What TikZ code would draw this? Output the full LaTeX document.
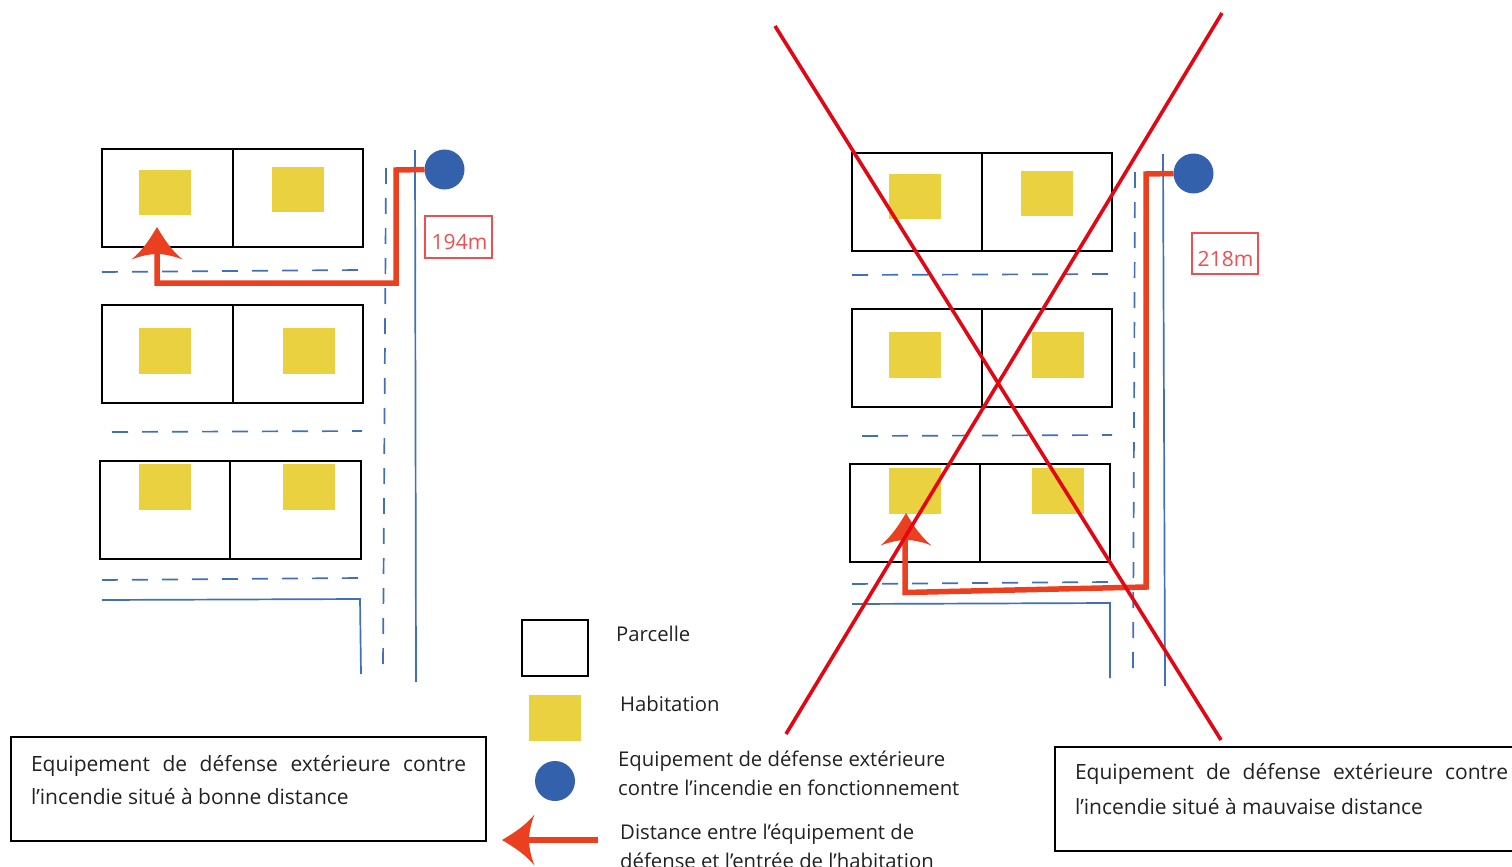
\documentclass[tikz,border=0pt]{standalone}
\usepackage{fontspec}
\setmainfont{Open Sans}
\definecolor{fire}{HTML}{EA401F}
\definecolor{yel}{HTML}{E9D13F}
\definecolor{hyd}{HTML}{3461AC}
\definecolor{road}{HTML}{4070B8}
\definecolor{lab}{HTML}{EF4F4F}
\definecolor{cross}{HTML}{E30613}
\definecolor{ink}{HTML}{222222}
\tikzset{
  parcel/.style={draw=black,line width=2pt,rectangle,anchor=north west,minimum width=131pt,minimum height=98pt,inner sep=0pt,outer sep=0pt},
  parcelb/.style={parcel,minimum width=130pt},
  house/.style={fill=yel,rectangle,anchor=north west,minimum width=52pt,minimum height=45.5pt,inner sep=0pt,outer sep=0pt},
  hydrant/.style={fill=hyd,circle,minimum size=40pt,inner sep=0pt,outer sep=0pt},
  solidroad/.style={draw=road,line width=1.7pt},
  dashroad/.style={draw=road,line width=1.7pt,dash pattern=on 16pt off 14pt},
  route/.style={draw=fire,line width=5.5pt,line join=miter},
  distlabel/.style={draw=lab,line width=1.4pt,rectangle,minimum width=67pt,minimum height=42pt,inner sep=0pt,outer sep=0pt},
  disttext/.style={text=lab,font=\fontsize{21}{24}\selectfont,inner sep=0pt},
  crossline/.style={draw=cross,line width=3.6pt},
  caption/.style={draw=black,line width=1.2pt,rectangle,anchor=north west,inner xsep=20pt,inner ysep=0pt,outer sep=0pt,text=ink,font=\fontsize{21}{33}\selectfont},
  legend/.style={anchor=west,text=ink,inner sep=0pt,font=\fontsize{20.3}{29}\selectfont,align=left}
}
\newcommand{\firehead}[3]{\fill[fire,shift={(#1,#2)},rotate=#3] (0,0) .. controls (7,12) and (15,24) .. (25.5,32.5) .. controls (18,29.5) and (8,27) .. (0,27) .. controls (-8,27) and (-18,29.5) .. (-25.5,32.5) .. controls (-15,24) and (-7,12) .. (0,0) -- cycle;}
\begin{document}
\begin{tikzpicture}[x=1pt,y=-1pt]
\clip (0,0) rectangle (1512,867);
\fill[white] (0,0) rectangle (1512,867);
% ---- left plan
\node[parcel] (la) at (102,149) {};
\node[parcelb] (lb) at (233,149) {};
\node[parcel] (lc) at (102,305) {};
\node[parcelb] (ld) at (233,305) {};
\node[parcelb] (le) at (100,461) {};
\node[parcel] (lf) at (230,461) {};
\node[house] (h1) at (139,169.5) {};
\node[house] (h2) at (272,166.5) {};
\node[house] (h3) at (139,328) {};
\node[house] (h4) at (283,328) {};
\node[house] (h5) at (139,464) {};
\node[house] (h6) at (283,464) {};
\draw[dashroad] (102,272) -- (360,270);
\draw[dashroad] (112,432) -- (362,431);
\draw[dashroad] (102,580) -- (360,578);
\draw[dashroad] (386,168) -- (383,668);
\draw[solidroad] (415,150) -- (416,682);
\draw[solidroad] (102,600) -- (360,599) -- (361,674);
\node[hydrant] (hl) at (444.5,169.5) {};
\coordinate (lr1) at (396,170);
\coordinate (lr2) at (396,283);
\coordinate (lr3) at (157,283);
\coordinate (lr4) at (157,245);
\draw[route] (hl.west) -- (lr1) -- (lr2) -- (lr3) -- (lr4);
\firehead{157}{227}{0}
\node[distlabel] (dl) at (458.5,237) {};
\node[disttext] (dlt) at (459.5,242) {194m};
% ---- right plan
\node[parcelb] (ra) at (852,153) {};
\node[parcelb] (rb) at (982,153) {};
\node[parcelb] (rc) at (852,309) {};
\node[parcelb] (rd) at (982,309) {};
\node[parcelb] (re) at (850,464) {};
\node[parcelb] (rf) at (980,464) {};
\node[house] (k1) at (888.5,173.5) {};
\node[house] (k2) at (1021,170.5) {};
\node[house] (k3) at (888.5,332) {};
\node[house] (k4) at (1032,332) {};
\node[house] (k5) at (888.5,468) {};
\node[house] (k6) at (1032,468) {};
\draw[dashroad] (852,275) -- (1110,274);
\draw[dashroad] (862,436) -- (1112,435);
\draw[dashroad] (852,584) -- (1108,582);
\draw[dashroad] (1135,172) -- (1133,672);
\draw[solidroad] (1163,154) -- (1165,686);
\draw[solidroad] (852,604) -- (1110,603) -- (1110,678);
\node[hydrant] (hr) at (1193.5,173.5) {};
\coordinate (rr1) at (1146,174);
\coordinate (rr2) at (1146,587);
\coordinate (rr3) at (905,592.5);
\coordinate (rr4) at (905,530);
\draw[route] (hr.west) -- (rr1) -- (rr2) -- (rr3) -- (rr4);
\firehead{906}{513}{0}
\node[distlabel,minimum width=66pt,minimum height=41pt] (dr) at (1225,253.5) {};
\node[disttext] (drt) at (1225.5,258.5) {218m};
\coordinate (x1) at (775,26);
\coordinate (x2) at (1221,740);
\coordinate (x3) at (1222,13);
\coordinate (x4) at (786,734);
\draw[crossline] (x1) -- (x2);
\draw[crossline] (x3) -- (x4);
% ---- legend
\node[draw=black,line width=2pt,rectangle,minimum width=66pt,minimum height=56pt,inner sep=0pt,outer sep=0pt,anchor=north west] (lgp) at (522,620) {};
\node[house] (lgh) at (529,695) {};
\node[hydrant] (lgc) at (555,781) {};
\coordinate (lga) at (598,840);
\coordinate (lgb) at (522,840);
\draw[draw=fire,line width=5.5pt] (lga) -- (lgb);
\firehead{502}{840}{90}
\node[legend] (t1) at (616,634) {Parcelle};
\node[legend] (t2) at (620,704) {Habitation};
\node[legend] (t3) at (618,773.5) {Equipement de défense extérieure\\contre l’incendie en fonctionnement};
\node[legend] (t4) at (620,846.5) {Distance entre l’équipement de\\défense et l’entrée de l’habitation};
% ---- captions
\node[caption] (c1) at (11,737) {\parbox[t][104pt][t]{435pt}{\vspace{11pt}\strut Equipement\hfill de\hfill défense\hfill extérieure\hfill contre\\\strut l’incendie situé à bonne distance}};
\node[caption] (c2) at (1055,747) {\parbox[t][104pt][t]{433pt}{\vspace{9pt}\strut Equipement\hfill de\hfill défense\hfill extérieure\hfill contre\\[2pt]\strut l’incendie situé à mauvaise distance}};
\end{tikzpicture}
\end{document}
